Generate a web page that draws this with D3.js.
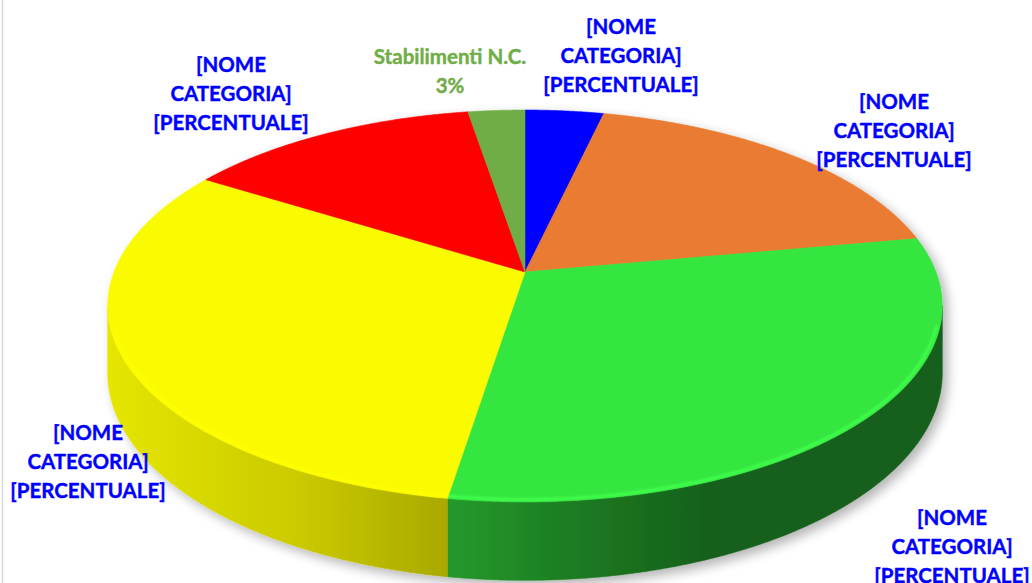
<!DOCTYPE html>
<html>
<head>
<meta charset="utf-8">
<script src="https://cdn.jsdelivr.net/npm/d3@7"></script>
<style>
  html, body { margin: 0; padding: 0; background: #fff; }
  svg { display: block; }
</style>
</head>
<body>
<script>
// dati (ordine in senso orario a partire da ore 12)
var categories = ['[NOME CATEGORIA]', '[NOME CATEGORIA]', '[NOME CATEGORIA]',
                  '[NOME CATEGORIA]', '[NOME CATEGORIA]', 'Stabilimenti N.C.'];
var values = [3.6, 18.5, 30.4, 31.4, 13.5, 2.6];
var colors = ['#0000ff', '#e97c30', '#36e640', '#fafa00', '#ff0000', '#70ad47'];
var labelColors = ['#0000ff', '#0000ff', '#0000ff', '#0000ff', '#0000ff', '#70ad47'];

var width = 1032,
    height = 583;

// geometria della torta 3D (prospettiva semplice)
var CX = 525, CY = 272,   // vertice della torta
    A = 411, B = 190,     // semiassi "piatti"
    P = 0.173,            // forza della prospettiva
    DEPTH = 65;           // spessore

// posizione delle etichette (centro x, centro y prima riga)
var labelPos = [[621, 27], [894, 102], [952, 518], [88, 433], [231, 65], [450, 57]];
var lineGap = 29;

function proj(a, r, h) {
  var u = r * Math.sin(a), v = -r * Math.cos(a);
  var w = 1 - P * v;
  return [CX + A * u / w, CY + (B * v + h) / w];
}

function rim(a0, a1, r, h) {
  var n = Math.max(2, Math.ceil((a1 - a0) / 0.005)), pts = [];
  for (var i = 0; i <= n; i++) pts.push(proj(a0 + (a1 - a0) * i / n, r, h));
  return pts;
}

var line = d3.line();

var svg = d3.select('body').append('svg')
  .attr('width', width)
  .attr('height', height);

var defs = svg.append('defs');

var shadow = defs.append('filter').attr('id', 'shadow')
  .attr('x', '-10%').attr('y', '-10%').attr('width', '130%').attr('height', '140%');
shadow.append('feGaussianBlur').attr('in', 'SourceAlpha').attr('stdDeviation', 6).attr('result', 'b');
shadow.append('feOffset').attr('in', 'b').attr('dx', 5).attr('dy', 5).attr('result', 'o');
shadow.append('feComponentTransfer').attr('in', 'o').attr('result', 's')
  .append('feFuncA').attr('type', 'linear').attr('slope', 0.3);
var merge = shadow.append('feMerge');
merge.append('feMergeNode').attr('in', 's');
merge.append('feMergeNode').attr('in', 'SourceGraphic');

var soft = defs.append('filter').attr('id', 'soft');
soft.append('feGaussianBlur').attr('stdDeviation', 1.2);

// bordo sinistro dell'area del grafico
svg.append('line')
  .attr('x1', 2.5).attr('x2', 2.5).attr('y1', 0).attr('y2', height)
  .attr('stroke', '#d9d9d9').attr('stroke-width', 1.5);

var pie = d3.pie().sort(null).value(function(d) { return d; });
var arcs = pie(values);

// sfumature dei lati
var xMin = CX - A / Math.sqrt(1 - P * P), xMax = CX + A / Math.sqrt(1 - P * P);
var shadeStops = [[110, 0.25], [300, 0.6], [445, 1.1], [600, 1.9], [720, 2.5], [944, 2.5]];
arcs.forEach(function(d, i) {
  var g = defs.append('linearGradient').attr('id', 'side' + i)
    .attr('gradientUnits', 'userSpaceOnUse')
    .attr('x1', xMin).attr('x2', xMax).attr('y1', 0).attr('y2', 0);
  shadeStops.forEach(function(s) {
    g.append('stop')
      .attr('offset', Math.max(0, Math.min(1, (s[0] - xMin) / (xMax - xMin))))
      .attr('stop-color', d3.color(colors[i]).darker(s[1]));
  });
});

var pieG = svg.append('g').attr('filter', 'url(#shadow)');

// lati visibili (parte frontale)
var visA0 = Math.acos(-P), visA1 = 2 * Math.PI - Math.acos(-P);
pieG.selectAll('path.side')
  .data(arcs.filter(function(d) { return d.endAngle > visA0 && d.startAngle < visA1; }))
  .enter()
  .append('path')
  .attr('class', 'side')
  .attr('d', function(d) {
    var a0 = Math.max(d.startAngle, visA0), a1 = Math.min(d.endAngle, visA1);
    var pts = rim(a0, a1, 1, 0).concat(rim(a0, a1, 1, DEPTH).reverse());
    return line(pts) + 'Z';
  })
  .attr('fill', function(d) { return 'url(#side' + d.index + ')'; })
  .attr('stroke', function(d) { return 'url(#side' + d.index + ')'; })
  .attr('stroke-width', 0.6);

// facce superiori
pieG.selectAll('path.top')
  .data(arcs)
  .enter()
  .append('path')
  .attr('class', 'top')
  .attr('d', function(d) {
    return line([[CX, CY]].concat(rim(d.startAngle, d.endAngle, 1, 0))) + 'Z';
  })
  .attr('fill', function(d, i) { return colors[i]; })
  .attr('stroke', function(d, i) { return colors[i]; })
  .attr('stroke-width', 0.6);

// riflesso sul bordo frontale
svg.selectAll('path.hl')
  .data(arcs.filter(function(d) { return d.endAngle > visA0 && d.startAngle < visA1; }))
  .enter()
  .append('path')
  .attr('class', 'hl')
  .attr('d', function(d) {
    var a0 = Math.max(d.startAngle, visA0 + 0.1), a1 = Math.min(d.endAngle, visA1 - 0.1);
    return line(rim(a0, a1, 0.992, 0));
  })
  .attr('fill', 'none')
  .attr('stroke', function(d) { return d3.color(colors[d.index]).brighter(0.5); })
  .attr('stroke-width', 3)
  .attr('filter', 'url(#soft)');

// etichette
var labels = svg.selectAll('text.lbl')
  .data(arcs)
  .enter()
  .append('text')
  .attr('class', 'lbl')
  .attr('text-anchor', 'middle')
  .attr('font-family', 'Lato, "Open Sans", sans-serif')
  .attr('font-weight', 'bold')
  .attr('font-size', '20.5px')
  .attr('fill', function(d, i) { return labelColors[i]; })
  .attr('stroke', function(d, i) { return labelColors[i]; })
  .attr('stroke-width', 0.4);

labels.each(function(d, i) {
  var name = categories[i];
  var lines = name.charAt(0) === '['
    ? name.split(' ').concat(['[PERCENTUALE]'])
    : [name, Math.round(values[i]) + '%'];
  d3.select(this).selectAll('tspan')
    .data(lines)
    .enter()
    .append('tspan')
    .attr('x', labelPos[i][0])
    .attr('y', function(t, k) { return labelPos[i][1] + k * lineGap + 7; })
    .text(function(t) { return t; });
});
</script>
</body>
</html>
